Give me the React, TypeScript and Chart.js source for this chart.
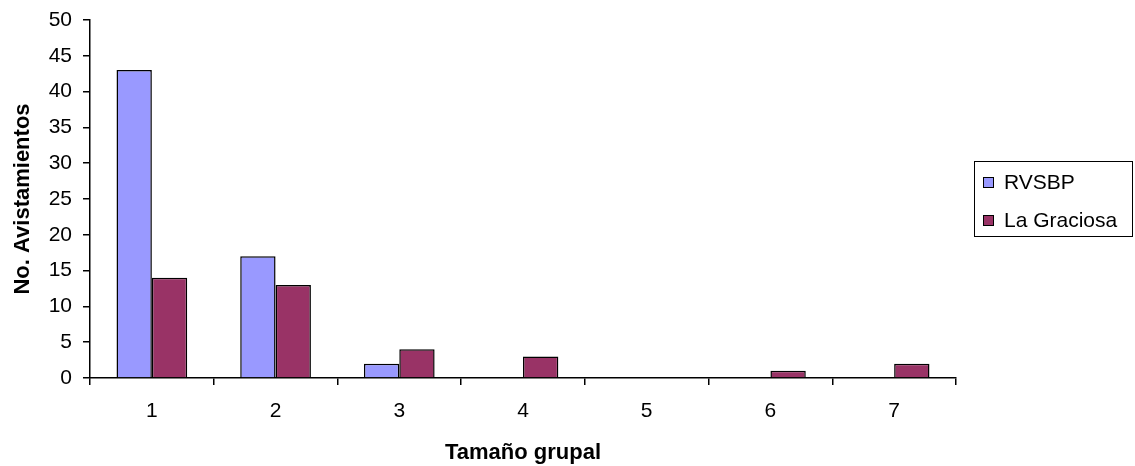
import React, { useEffect, useRef } from "react";
import { Chart, registerables } from "chart.js";

Chart.register(...registerables);

const categories = ["1", "2", "3", "4", "5", "6", "7"];
const rvsbpValues = [43, 17, 2, 0, 0, 0, 0];
const graciosaValues = [14, 13, 4, 3, 0, 1, 2];
const seriesNames = ["RVSBP", "La Graciosa"];
const seriesColors = ["#9999FF", "#993366"];

const FONT = "'Liberation Sans', Arial, sans-serif";

export default function App() {
  const ref = useRef<HTMLCanvasElement | null>(null);

  useEffect(() => {
    if (!ref.current) return;
    const chart = new Chart(ref.current, {
      type: "bar",
      data: {
        labels: categories,
        datasets: [
          {
            label: seriesNames[0],
            data: rvsbpValues,
            backgroundColor: seriesColors[0],
            borderColor: "#000",
            borderWidth: 1.5,
            categoryPercentage: 2 / 3.5,
            barPercentage: 1,
          },
          {
            label: seriesNames[1],
            data: graciosaValues,
            backgroundColor: seriesColors[1],
            borderColor: "#000",
            borderWidth: 1.5,
            categoryPercentage: 2 / 3.5,
            barPercentage: 1,
          },
        ],
      },
      options: {
        animation: false,
        responsive: false,
        maintainAspectRatio: false,
        layout: { padding: { left: 0, right: 179, top: 20, bottom: 0 } },
        plugins: { legend: { display: false }, tooltip: { enabled: false } },
        scales: {
          x: {
            afterFit: (s: any) => {
              s.height = 88;
              s.paddingLeft = 0;
              s.paddingRight = 0;
            },
            grid: {
              display: true,
              drawOnChartArea: false,
              drawTicks: true,
              tickLength: 7,
              color: "#000",
              lineWidth: 1.5,
              offset: true,
            },
            border: { display: true, color: "#000", width: 1.5 },
            ticks: { color: "#000", font: { family: FONT, size: 21 }, padding: 14 },
            title: {
              display: true,
              text: "Tamaño grupal",
              color: "#000",
              font: { family: FONT, size: 22, weight: "bold" },
              padding: { top: 0, bottom: 0 },
            },
          },
          y: {
            min: 0,
            max: 50,
            afterFit: (s: any) => {
              s.width = 90;
              s.paddingTop = 0;
              s.paddingBottom = 0;
            },
            grid: {
              display: true,
              drawOnChartArea: false,
              drawTicks: true,
              tickLength: 7,
              color: "#000",
              lineWidth: 1.5,
            },
            border: { display: true, color: "#000", width: 1.5 },
            ticks: {
              stepSize: 5,
              color: "#000",
              font: { family: FONT, size: 21 },
              padding: 11,
            },
            title: {
              display: true,
              text: "No. Avistamientos",
              color: "#000",
              font: { family: FONT, size: 22, weight: "bold" },
              padding: { top: 10, bottom: 0 },
            },
          },
        },
      },
    });
    return () => chart.destroy();
  }, []);

  return (
    <div style={{ position: "fixed", left: 0, top: 0, width: 1135, height: 466, background: "#fff" }}>
      <canvas ref={ref} width={1135} height={466} style={{ width: 1135, height: 466, display: "block" }} />
      <div
        style={{
          position: "absolute",
          left: 974,
          top: 161,
          width: 159,
          height: 76,
          border: "1.5px solid #000",
          fontFamily: FONT,
          fontSize: 21,
          color: "#000",
          boxSizing: "border-box",
        }}
      >
        {seriesNames.map((name, i) => (
          <div
            key={name}
            style={{
              position: "absolute",
              left: 8,
              top: i === 0 ? 7 : 45,
              height: 26,
              display: "flex",
              alignItems: "center",
              whiteSpace: "nowrap",
            }}
          >
            <span
              style={{
                display: "inline-block",
                width: 9,
                height: 9,
                background: seriesColors[i],
                border: "1px solid #000",
                marginRight: 10,
              }}
            />
            <span>{name}</span>
          </div>
        ))}
      </div>
    </div>
  );
}
